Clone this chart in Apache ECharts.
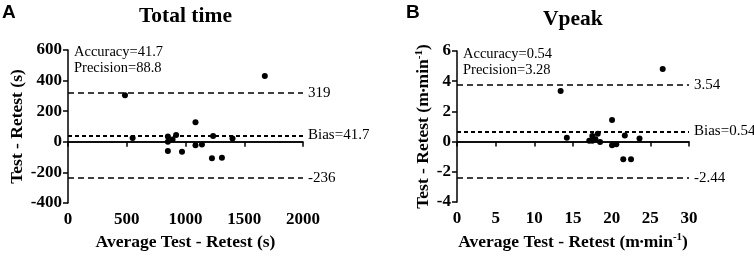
<!DOCTYPE html>
<html>
<head>
<meta charset="utf-8">
<script src="https://cdn.jsdelivr.net/npm/echarts@6/dist/echarts.min.js"></script>
<style>
  html, body { margin: 0; padding: 0; background: #fff; }
  #chart { width: 754px; height: 256px; }
</style>
</head>
<body>
<div id="chart"></div>
<script>
// Panel A: total time (s)
const timeMean = [485, 1675, 550, 850, 850, 850, 890, 920, 970, 1085, 1085, 1140, 1225, 1235, 1310, 1400];
const timeDiff = [305, 430, 25, 35, 0, -60, 15, 45, -65, 127, -22, -17, -108, 38, -104, 22];
const timeLines = [319, 41.7, -236];
const timeLineLabels = ["319", "Bias=41.7", "-236"];
const timeStats = ["Accuracy=41.7", "Precision=88.8"];

// Panel B: Vpeak (m.min-1)
const vpeakMean = [13.4, 26.6, 14.2, 17.1, 17.5, 17.5, 17.9, 18.2, 18.5, 20.05, 20.05, 20.6, 21.5, 21.7, 22.5, 23.6];
const vpeakDiff = [3.35, 4.8, 0.26, 0.05, 0.05, 0.37, 0.15, 0.52, -0.02, 1.43, -0.24, -0.18, -1.17, 0.41, -1.17, 0.2];
const vpeakLines = [3.75, 0.68, -2.42];
const vpeakLineLabels = ["3.54", "Bias=0.54", "-2.44"];
const vpeakStats = ["Accuracy=0.54", "Precision=3.28"];

const serif = "'Liberation Serif', 'DejaVu Serif', serif";
const sans = "'Liberation Sans', Arial, sans-serif";

const chart = echarts.init(document.getElementById("chart"));

const axisCommon = {
  axisLine: { lineStyle: { color: "#000", width: 1.5 } },
  axisTick: { length: 5, lineStyle: { color: "#000", width: 1.5 } },
  splitLine: { show: false },
  nameTextStyle: {
    color: "#000", fontFamily: serif, fontWeight: "bold", fontSize: 17.5,
    rich: {
      dot: { fontFamily: serif, fontWeight: "bold", fontSize: 11, color: "#000" },
      sup: { fontFamily: serif, fontWeight: "bold", fontSize: 11, color: "#000", verticalAlign: "top", padding: [0, 0, 9, 0] },
    },
  },
};

const tickLabel = (margin) => ({
  color: "#000", fontFamily: serif, fontWeight: "bold", fontSize: 17, margin: margin,
  formatter: (v) => String(v),
});

const limitLines = (values, labels) => [
  ...values.map((v, i) => ({
    yAxis: v,
    lineStyle: i === 1
      ? { type: [4, 3], width: 2, color: "#000" }
      : { type: [6, 4], width: 1.5, color: "#000" },
    label: { show: true, position: "end", formatter: labels[i], distance: 5,
      color: "#000", fontFamily: serif, fontSize: 15 },
  })),
  { yAxis: 0, lineStyle: { type: "solid", width: 1.5, color: "#000" }, label: { show: false } },
];

const scatterSeries = (xi, xs, ys, lines, labels) => ({
  type: "scatter",
  xAxisIndex: xi,
  yAxisIndex: xi,
  data: xs.map((x, i) => [x, ys[i]]),
  symbol: "circle",
  symbolSize: 6,
  itemStyle: { color: "#000", opacity: 1 },
  z: 5,
  markLine: {
    silent: true,
    symbol: "none",
    animation: false,
    data: limitLines(lines, labels),
  },
});

const statText = (x, y, lines) => lines.map((t, i) => ({
  type: "text", left: x, top: y + i * 16,
  style: { text: t, fill: "#000", font: "14.5px " + serif },
}));

chart.setOption({
  animation: false,
  grid: [
    { left: 68, top: 50, width: 235, height: 154 },
    { left: 457, top: 51, width: 232, height: 153 },
  ],
  xAxis: [
    { ...axisCommon, gridIndex: 0, type: "value", min: 0, max: 2000, interval: 500,
      axisLabel: tickLabel(8),
      name: "Average Test - Retest (s)", nameLocation: "middle", nameGap: 30 },
    { ...axisCommon, gridIndex: 1, type: "value", min: 0, max: 30, interval: 5,
      axisLabel: tickLabel(8),
      name: "Average Test - Retest (m{dot|•}min{sup|-1})", nameLocation: "middle", nameGap: 30 },
  ],
  yAxis: [
    { ...axisCommon, gridIndex: 0, type: "value", min: -400, max: 600, interval: 200,
      axisLabel: tickLabel(6),
      name: "Test - Retest (s)", nameLocation: "middle", nameGap: 41 },
    { ...axisCommon, gridIndex: 1, type: "value", min: -4, max: 6, interval: 2,
      axisLabel: tickLabel(6),
      name: "Test - Retest (m{dot|•}min{sup|-1})", nameLocation: "middle", nameGap: 17 },
  ],
  series: [
    scatterSeries(0, timeMean, timeDiff, timeLines, timeLineLabels),
    scatterSeries(1, vpeakMean, vpeakDiff, vpeakLines, vpeakLineLabels),
  ],
  graphic: [
    { type: "text", left: 2, top: 3, style: { text: "A", fill: "#000", font: "bold 19px " + sans } },
    { type: "text", left: 406, top: 3, style: { text: "B", fill: "#000", font: "bold 19px " + sans } },
    { type: "text", left: 139, top: 5, style: { text: "Total time", fill: "#000", font: "bold 21.5px " + serif } },
    { type: "text", left: 543, top: 8, style: { text: "Vpeak", fill: "#000", font: "bold 21.5px " + serif } },
    ...statText(74, 45, timeStats),
    ...statText(463, 47, vpeakStats),
  ],
});
</script>
</body>
</html>
